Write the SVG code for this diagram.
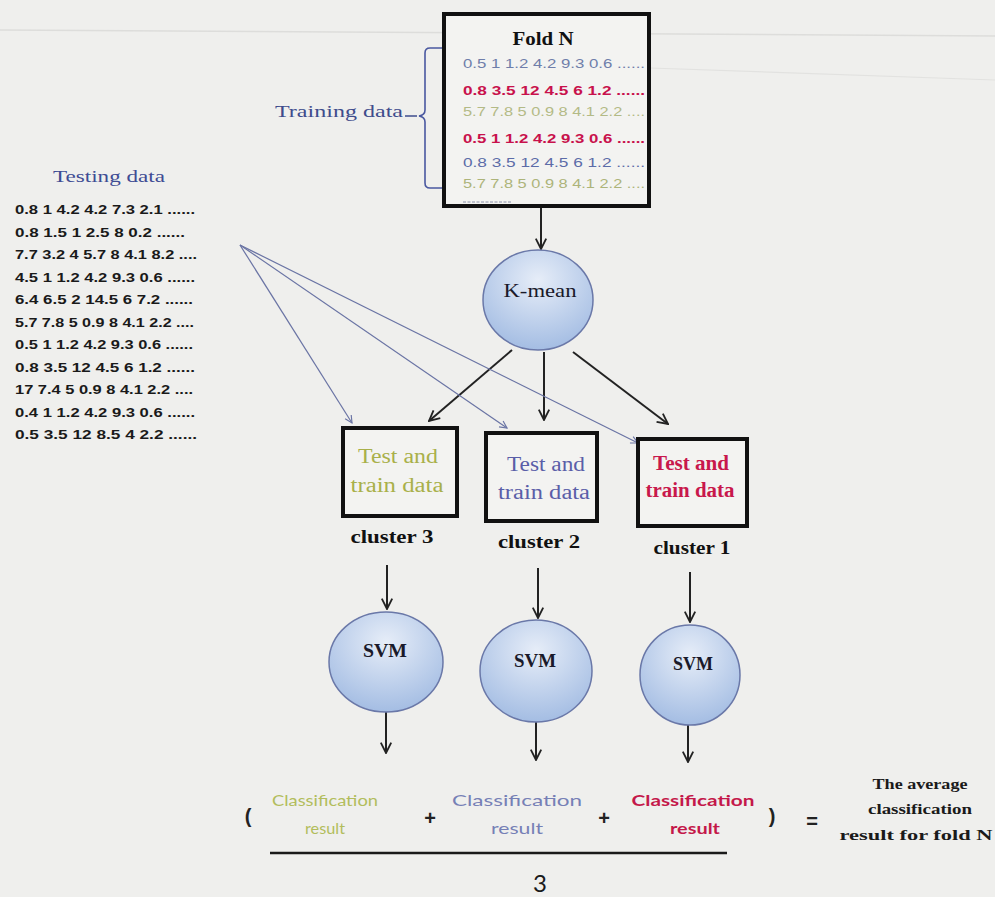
<svg xmlns="http://www.w3.org/2000/svg" width="995" height="897" viewBox="0 0 995 897">
<defs>
<style>
.box{fill:#f3f3f1;stroke:#111;stroke-width:4}
.arr{fill:none;stroke:#222;stroke-width:2;marker-end:url(#ah)}
.thin{fill:none;stroke:#6a74a4;stroke-width:1.2;marker-end:url(#ahs)}
.cam{font-family:"Liberation Serif",serif}
.row{font-family:"Liberation Sans",sans-serif;font-size:13px;font-weight:bold;fill:#1a1a1a}
.frow{font-family:"Liberation Sans",sans-serif;font-size:13px}
.lbl{font-family:"Liberation Serif",serif;font-weight:bold;font-size:19px;fill:#111;text-anchor:middle}
.cls{font-family:Lato,"Liberation Sans",sans-serif;font-size:15px;text-anchor:middle}
.op{font-family:"Liberation Sans",sans-serif;font-size:20px;fill:#222;text-anchor:middle;font-weight:bold}
</style>
<marker id="ah" viewBox="0 0 10 10" refX="9" refY="5" markerWidth="13" markerHeight="13" markerUnits="userSpaceOnUse" orient="auto">
<path d="M1,1 L9,5 L1,9" fill="none" stroke="#222" stroke-width="1.4"/>
</marker>
<marker id="ahs" viewBox="0 0 10 10" refX="9" refY="5" markerWidth="9" markerHeight="9" markerUnits="userSpaceOnUse" orient="auto">
<path d="M1,1 L9,5 L1,9" fill="none" stroke="#6a74a4" stroke-width="1.3"/>
</marker>
<radialGradient id="blue" cx="50%" cy="30%" r="70%">
<stop offset="0" stop-color="#e6edf8"/>
<stop offset="1" stop-color="#a4bde3"/>
</radialGradient>
</defs>
<rect x="0" y="0" width="995" height="897" fill="#efefed"/>
<line x1="0" y1="30" x2="995" y2="36" stroke="#dddddb" stroke-width="1.5"/>
<line x1="650" y1="68" x2="995" y2="80" stroke="#e2e2e0" stroke-width="1.2"/>

<g id="connectors">
<line class="arr" x1="541" y1="208" x2="541" y2="249"/>
<line class="arr" x1="512" y1="350" x2="429" y2="421"/>
<line class="arr" x1="544" y1="352" x2="544" y2="420"/>
<line class="arr" x1="573" y1="352" x2="668" y2="424"/>
<line class="thin" x1="240" y1="245" x2="352" y2="423"/>
<line class="thin" x1="240" y1="245" x2="507" y2="428"/>
<line class="thin" x1="240" y1="245" x2="638" y2="443"/>
<line class="arr" x1="387" y1="565" x2="387" y2="609"/>
<line class="arr" x1="538" y1="568" x2="538" y2="618"/>
<line class="arr" x1="690" y1="572" x2="690" y2="622"/>
<line class="arr" x1="386" y1="712" x2="386" y2="753"/>
<line class="arr" x1="536" y1="722" x2="536" y2="760"/>
<line class="arr" x1="688" y1="725" x2="688" y2="762"/>
</g>

<g id="fold-n">
<rect class="box" x="444" y="14" width="205" height="192" fill="#f6f6f4"/>
<text class="cam" x="543" y="45" font-size="19" font-weight="bold" text-anchor="middle" fill="#111" textLength="61" lengthAdjust="spacingAndGlyphs">Fold N</text>
<text class="frow" x="463" y="68" fill="#6f7eaa" textLength="182" lengthAdjust="spacingAndGlyphs">0.5 1 1.2 4.2 9.3 0.6 ......</text>
<text class="frow" x="463" y="95" fill="#c8114c" font-weight="bold" textLength="182" lengthAdjust="spacingAndGlyphs">0.8 3.5 12 4.5 6 1.2 ......</text>
<text class="frow" x="463" y="116" fill="#b3ba86" textLength="182" lengthAdjust="spacingAndGlyphs">5.7 7.8 5 0.9 8 4.1 2.2 ....</text>
<text class="frow" x="463" y="143" fill="#c8114c" font-weight="bold" textLength="182" lengthAdjust="spacingAndGlyphs">0.5 1 1.2 4.2 9.3 0.6 ......</text>
<text class="frow" x="463" y="167" fill="#5c6ca8" textLength="182" lengthAdjust="spacingAndGlyphs">0.8 3.5 12 4.5 6 1.2 ......</text>
<text class="frow" x="463" y="188" fill="#adb47a" textLength="182" lengthAdjust="spacingAndGlyphs">5.7 7.8 5 0.9 8 4.1 2.2 ....</text>
<line x1="463" y1="202" x2="512" y2="202" stroke="#8a90a8" stroke-width="1" stroke-dasharray="3,1.5"/>
</g>

<g id="training-data">
<text class="cam" x="275" y="117" font-size="17" fill="#3e4c8c" textLength="128" lengthAdjust="spacingAndGlyphs">Training data</text>
<line x1="405" y1="116" x2="417" y2="116" stroke="#3e4c8c" stroke-width="1.5"/>
<path d="M442,48 H430 Q425,48 425,53 V110 Q425,115 419,116 Q425,117 425,122 V183 Q425,188 430,188 H442" fill="none" stroke="#4a58a0" stroke-width="1.6"/>
</g>

<g id="testing-data">
<text class="cam" x="53" y="182" font-size="17" fill="#3e4c94" textLength="112" lengthAdjust="spacingAndGlyphs">Testing data</text>
<text class="row" x="15" y="214" textLength="180" lengthAdjust="spacingAndGlyphs">0.8 1 4.2 4.2 7.3 2.1 ......</text>
<text class="row" x="15" y="236.5" textLength="170" lengthAdjust="spacingAndGlyphs">0.8 1.5 1 2.5 8 0.2 ......</text>
<text class="row" x="15" y="259" textLength="182" lengthAdjust="spacingAndGlyphs">7.7 3.2 4 5.7 8 4.1 8.2 ....</text>
<text class="row" x="15" y="281.5" textLength="180" lengthAdjust="spacingAndGlyphs">4.5 1 1.2 4.2 9.3 0.6 ......</text>
<text class="row" x="15" y="304" textLength="178" lengthAdjust="spacingAndGlyphs">6.4 6.5 2 14.5 6 7.2 ......</text>
<text class="row" x="15" y="326.5" textLength="179" lengthAdjust="spacingAndGlyphs">5.7 7.8 5 0.9 8 4.1 2.2 ....</text>
<text class="row" x="15" y="349" textLength="178" lengthAdjust="spacingAndGlyphs">0.5 1 1.2 4.2 9.3 0.6 ......</text>
<text class="row" x="15" y="371.5" textLength="180" lengthAdjust="spacingAndGlyphs">0.8 3.5 12 4.5 6 1.2 ......</text>
<text class="row" x="15" y="394" textLength="178" lengthAdjust="spacingAndGlyphs">17 7.4 5 0.9 8 4.1 2.2 ....</text>
<text class="row" x="15" y="416.5" textLength="180" lengthAdjust="spacingAndGlyphs">0.4 1 1.2 4.2 9.3 0.6 ......</text>
<text class="row" x="15" y="439" textLength="182" lengthAdjust="spacingAndGlyphs">0.5 3.5 12 8.5 4 2.2 ......</text>
</g>

<g id="k-mean">
<ellipse cx="538" cy="300" rx="55" ry="50" fill="url(#blue)" stroke="#6a78a8" stroke-width="1.5"/>
<text class="cam" x="540" y="297" font-size="19" text-anchor="middle" fill="#1a1a2a" textLength="73" lengthAdjust="spacingAndGlyphs">K-mean</text>
</g>

<g id="cluster-3">
<rect class="box" x="343" y="428" width="114" height="88"/>
<text class="cam" x="398" y="463" font-size="20" fill="#a9b04a" text-anchor="middle" textLength="80" lengthAdjust="spacingAndGlyphs">Test and</text>
<text class="cam" x="397" y="492" font-size="20" fill="#a9b04a" text-anchor="middle" textLength="93" lengthAdjust="spacingAndGlyphs">train data</text>
<text class="lbl" x="392" y="543" textLength="83" lengthAdjust="spacingAndGlyphs">cluster 3</text>
</g>
<g id="cluster-2">
<rect class="box" x="486" y="433" width="111" height="88"/>
<text class="cam" x="546" y="471" font-size="20" fill="#5a5ea8" text-anchor="middle" textLength="78" lengthAdjust="spacingAndGlyphs">Test and</text>
<text class="cam" x="544" y="499" font-size="20" fill="#5a5ea8" text-anchor="middle" textLength="92" lengthAdjust="spacingAndGlyphs">train data</text>
<text class="lbl" x="539" y="548" textLength="82" lengthAdjust="spacingAndGlyphs">cluster 2</text>
</g>
<g id="cluster-1">
<rect class="box" x="638" y="439" width="109" height="87"/>
<text class="cam" x="691" y="470" font-size="20" font-weight="bold" fill="#c8184c" text-anchor="middle" textLength="76" lengthAdjust="spacingAndGlyphs">Test and</text>
<text class="cam" x="690" y="497" font-size="20" font-weight="bold" fill="#c8184c" text-anchor="middle" textLength="89" lengthAdjust="spacingAndGlyphs">train data</text>
<text class="lbl" x="692" y="554" textLength="77" lengthAdjust="spacingAndGlyphs">cluster 1</text>
</g>

<g id="svm-3">
<ellipse cx="386" cy="662" rx="57" ry="50" fill="url(#blue)" stroke="#6a78a8" stroke-width="1.5"/>
<text class="cam" x="385" y="657" font-size="18" font-weight="bold" text-anchor="middle" fill="#1a1a2a" textLength="44" lengthAdjust="spacingAndGlyphs">SVM</text>
</g>
<g id="svm-2">
<ellipse cx="536" cy="671" rx="56" ry="51" fill="url(#blue)" stroke="#6a78a8" stroke-width="1.5"/>
<text class="cam" x="535" y="667" font-size="18" font-weight="bold" text-anchor="middle" fill="#1a1a2a" textLength="42" lengthAdjust="spacingAndGlyphs">SVM</text>
</g>
<g id="svm-1">
<ellipse cx="690" cy="675" rx="50" ry="50" fill="url(#blue)" stroke="#6a78a8" stroke-width="1.5"/>
<text class="cam" x="693" y="670" font-size="18" font-weight="bold" text-anchor="middle" fill="#1a1a2a" textLength="40" lengthAdjust="spacingAndGlyphs">SVM</text>
</g>

<g id="formula">
<text class="op" x="248" y="823" font-weight="normal" font-size="24">(</text>
<text class="cls" x="325" y="806" fill="#b2bd5c" textLength="106" lengthAdjust="spacingAndGlyphs">Classification</text>
<text class="cls" x="325" y="834" fill="#b2bd5c" textLength="40" lengthAdjust="spacingAndGlyphs">result</text>
<text class="op" x="430" y="825">+</text>
<text class="cls" x="517" y="806" fill="#7680b6" textLength="130" lengthAdjust="spacingAndGlyphs">Classification</text>
<text class="cls" x="517" y="834" fill="#7680b6" textLength="52" lengthAdjust="spacingAndGlyphs">result</text>
<text class="op" x="604" y="825">+</text>
<text class="cls" x="693" y="806" fill="#c4184a" font-weight="bold" textLength="123" lengthAdjust="spacingAndGlyphs">Classification</text>
<text class="cls" x="695" y="834" fill="#c4184a" font-weight="bold" textLength="50" lengthAdjust="spacingAndGlyphs">result</text>
<text class="op" x="772" y="823" font-weight="normal" font-size="24">)</text>
<text class="op" x="812" y="828" font-size="22">=</text>
<line x1="270" y1="853" x2="727" y2="853" stroke="#1a1a1a" stroke-width="2.5"/>
<text x="540" y="892" font-family="Lato,'Liberation Sans',sans-serif" font-size="24" text-anchor="middle" fill="#1a1a1a">3</text>
<text class="cam" x="920" y="789" font-size="15" font-weight="bold" text-anchor="middle" fill="#1a1a1a" textLength="95" lengthAdjust="spacingAndGlyphs">The average</text>
<text class="cam" x="920" y="814" font-size="15" font-weight="bold" text-anchor="middle" fill="#1a1a1a" textLength="104" lengthAdjust="spacingAndGlyphs">classification</text>
<text class="cam" x="916" y="840" font-size="15" font-weight="bold" text-anchor="middle" fill="#1a1a1a" textLength="153" lengthAdjust="spacingAndGlyphs">result for fold N</text>
</g>
</svg>
